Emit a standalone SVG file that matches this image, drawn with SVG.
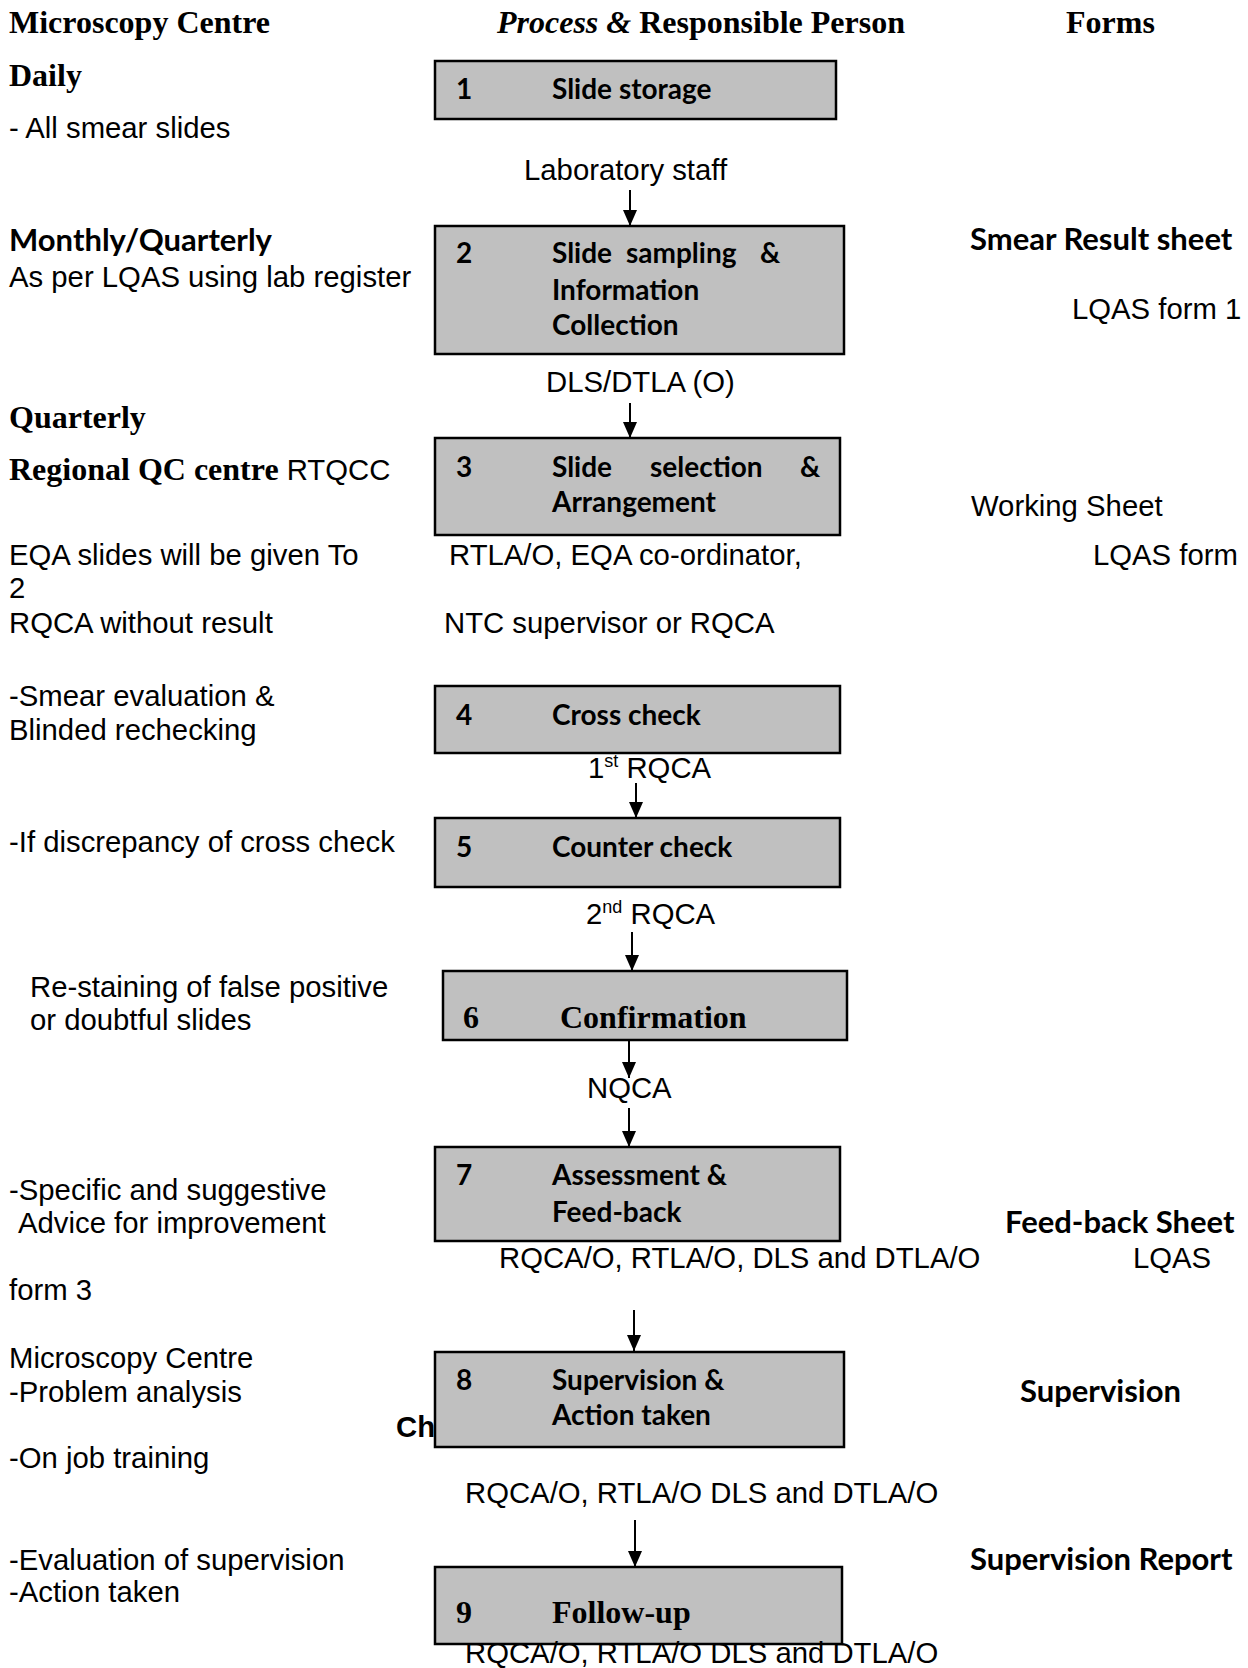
<svg xmlns="http://www.w3.org/2000/svg" width="1248" height="1668" viewBox="0 0 1248 1668">
<defs>
<marker id="ah" markerUnits="userSpaceOnUse" markerWidth="16" markerHeight="14" refX="16" refY="7" orient="auto" viewBox="0 0 16 14">
<path d="M0,0 L16,7 L0,14 Z" fill="#000"/>
</marker>
</defs>
<style>
.bg{fill:#fff}
.box{fill:#c0c0c0;stroke:#000;stroke-width:2.5}
.hd{font-family:"Liberation Serif","Times New Roman",serif;font-weight:bold;font-size:32px;fill:#000}
.tb{font-family:"Liberation Serif","Times New Roman",serif;font-weight:bold;font-size:32px;fill:#000}
.t{font-family:"Liberation Sans",Arial,sans-serif;font-size:29.3px;fill:#000}
.tbold{font-family:"Liberation Sans",Arial,sans-serif;font-size:29.3px;font-weight:bold;fill:#000}
.c{font-family:Lato,"Liberation Sans",sans-serif;font-weight:bold;font-size:28px;fill:#000}
.cl{font-family:Lato,"Liberation Sans",sans-serif;font-weight:bold;font-size:31px;fill:#000}
.ln{stroke:#000;stroke-width:2;fill:none}
</style>
<rect class="bg" x="0" y="0" width="1248" height="1668"/>

<g id="headers">
<text class="hd" x="9" y="33">Microscopy Centre</text>
<text class="hd" x="497" y="33"><tspan font-style="italic">Process &amp;</tspan> Responsible Person</text>
<text class="hd" x="1066" y="33">Forms</text>
</g>

<g id="left-column">
<text class="tb" x="9" y="86">Daily</text>
<text class="t" x="9" y="138">- All smear slides</text>
<text class="cl" x="9" y="251" font-size="29">Monthly/Quarterly</text>
<text class="t" x="9" y="287">As per LQAS using lab register</text>
<text class="tb" x="9" y="428">Quarterly</text>
<text x="9" y="480"><tspan class="tb">Regional QC centre</tspan><tspan class="t"> RTQCC</tspan></text>
<text class="t" x="9" y="565">EQA slides will be given To</text>
<text class="t" x="9" y="598">2</text>
<text class="t" x="9" y="633">RQCA without result</text>
<text class="t" x="9" y="706">-Smear evaluation &amp;</text>
<text class="t" x="9" y="740">Blinded rechecking</text>
<text class="t" x="9" y="852">-If discrepancy of cross check</text>
<text class="t" x="30" y="997">Re-staining of false positive</text>
<text class="t" x="30" y="1030">or doubtful slides</text>
<text class="t" x="9" y="1200">-Specific and suggestive</text>
<text class="t" x="18" y="1233">Advice for improvement</text>
<text class="t" x="9" y="1300">form 3</text>
<text class="t" x="9" y="1368">Microscopy Centre</text>
<text class="t" x="9" y="1402">-Problem analysis</text>
<text class="tbold" x="396" y="1437">Ch</text>
<text class="t" x="9" y="1468">-On job training</text>
<text class="t" x="9" y="1570">-Evaluation of supervision</text>
<text class="t" x="9" y="1602">-Action taken</text>
</g>

<g id="right-column">
<text class="cl" x="970" y="250" font-size="30.5">Smear Result sheet</text>
<text class="t" x="1072" y="319">LQAS form 1</text>
<text class="t" x="971" y="516">Working Sheet</text>
<text class="t" x="1093" y="565">LQAS form</text>
<text class="cl" x="1005" y="1233">Feed-back Sheet</text>
<text class="t" x="1133" y="1268">LQAS</text>
<text class="cl" x="1020" y="1402">Supervision</text>
<text class="cl" x="970" y="1570">Supervision Report</text>
</g>

<g id="responsible-labels">
<text class="t" x="524" y="180">Laboratory staff</text>
<text class="t" x="546" y="392">DLS/DTLA (O)</text>
<text class="t" x="449" y="565">RTLA/O, EQA co-ordinator,</text>
<text class="t" x="444" y="633">NTC supervisor or RQCA</text>
<text class="t" x="588" y="778">1<tspan font-size="18" dy="-11">st</tspan><tspan dy="11"> RQCA</tspan></text>
<text class="t" x="586" y="924">2<tspan font-size="18" dy="-11">nd</tspan><tspan dy="11"> RQCA</tspan></text>
<text class="t" x="587" y="1098">NQCA</text>
<text class="t" x="499" y="1268">RQCA/O, RTLA/O, DLS and DTLA/O</text>
<text class="t" x="465" y="1503">RQCA/O, RTLA/O DLS and DTLA/O</text>
</g>

<g id="connectors">
<line class="ln" x1="630" y1="190" x2="630" y2="226" marker-end="url(#ah)"/>
<line class="ln" x1="630" y1="403" x2="630" y2="438" marker-end="url(#ah)"/>
<line class="ln" x1="636" y1="783" x2="636" y2="818" marker-end="url(#ah)"/>
<line class="ln" x1="632" y1="932" x2="632" y2="971" marker-end="url(#ah)"/>
<line class="ln" x1="629" y1="1041" x2="629" y2="1078" marker-end="url(#ah)"/>
<line class="ln" x1="629" y1="1108" x2="629" y2="1147" marker-end="url(#ah)"/>
<line class="ln" x1="634" y1="1310" x2="634" y2="1351" marker-end="url(#ah)"/>
<line class="ln" x1="635" y1="1520" x2="635" y2="1567" marker-end="url(#ah)"/>
</g>

<g id="node1">
<rect class="box" x="435" y="61" width="401" height="58"/>
<text class="c" x="456" y="99">1</text>
<text class="c" x="552" y="99">Slide storage</text>
</g>
<g id="node2">
<rect class="box" x="435" y="226" width="409" height="128"/>
<text class="c" x="456" y="263">2</text>
<text class="c" x="552" y="263">Slide</text>
<text class="c" x="626" y="263">sampling</text>
<text class="c" x="760" y="263">&amp;</text>
<text class="c" x="552" y="300">Information</text>
<text class="c" x="552" y="335">Collection</text>
</g>
<g id="node3">
<rect class="box" x="435" y="438" width="405" height="97"/>
<text class="c" x="456" y="477">3</text>
<text class="c" x="552" y="477">Slide</text>
<text class="c" x="650" y="477">selection</text>
<text class="c" x="800" y="477">&amp;</text>
<text class="c" x="552" y="512">Arrangement</text>
</g>
<g id="node4">
<rect class="box" x="435" y="686" width="405" height="67"/>
<text class="c" x="456" y="725">4</text>
<text class="c" x="552" y="725">Cross check</text>
</g>
<g id="node5">
<rect class="box" x="435" y="818" width="405" height="69"/>
<text class="c" x="456" y="857">5</text>
<text class="c" x="552" y="857">Counter check</text>
</g>
<g id="node6">
<rect class="box" x="443" y="971" width="404" height="69"/>
<text class="tb" x="463" y="1028">6</text>
<text class="tb" x="560" y="1028">Confirmation</text>
</g>
<g id="node7">
<rect class="box" x="435" y="1147" width="405" height="94"/>
<text class="c" x="456" y="1185">7</text>
<text class="c" x="552" y="1185">Assessment &amp;</text>
<text class="c" x="552" y="1222">Feed-back</text>
</g>
<g id="node8">
<rect class="box" x="435" y="1352" width="409" height="95"/>
<text class="c" x="456" y="1390">8</text>
<text class="c" x="552" y="1390">Supervision &amp;</text>
<text class="c" x="552" y="1425">Action taken</text>
</g>
<g id="node9">
<rect class="box" x="435" y="1567" width="407" height="77"/>
<text class="tb" x="456" y="1623">9</text>
<text class="tb" x="552" y="1623">Follow-up</text>
</g>
<g id="final-label">
<text class="t" x="465" y="1663">RQCA/O, RTLA/O DLS and DTLA/O</text>
</g>
</svg>
